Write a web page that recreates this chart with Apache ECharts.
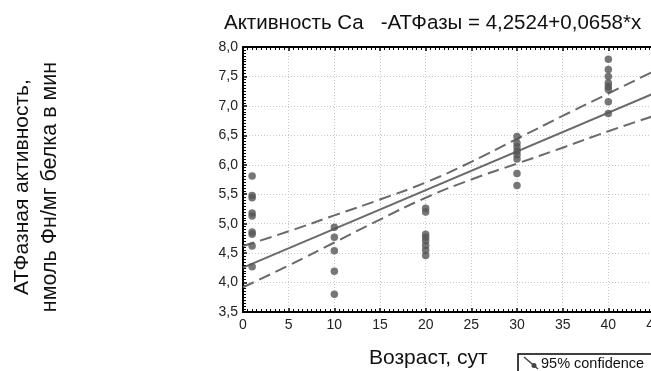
<!DOCTYPE html>
<html>
<head>
<meta charset="utf-8">
<script src="https://cdn.jsdelivr.net/npm/echarts@6/dist/echarts.min.js"></script>
<style>
html,body{margin:0;padding:0;background:#fff;}
#chart{width:651px;height:371px;}
</style>
</head>
<body>
<div id="chart"></div>
<script>
// ---- data ----
var titleText = 'Активность Ca   -АТФазы = 4,2524+0,0658*x';
var xName = 'Возраст, сут';
var yNameLine1 = 'АТФазная активность,';
var yNameLine2 = 'нмоль Фн/мг белка в мин';
var legendText = '95% confidence';

var ages = [1, 10, 20, 30, 40];
var valuesAge1  = [5.81, 5.48, 5.44, 5.18, 5.13, 4.86, 4.82, 4.62, 4.27];
var valuesAge10 = [4.94, 4.77, 4.54, 4.19, 3.80];
var valuesAge20 = [5.26, 5.20, 4.82, 4.77, 4.71, 4.63, 4.55, 4.46];
var valuesAge30 = [6.48, 6.37, 6.30, 6.23, 6.17, 6.10, 5.85, 5.65];
var valuesAge40 = [7.79, 7.62, 7.50, 7.39, 7.33, 7.28, 7.07, 6.87];

var fitX = [0, 45];
var fitY = [4.2524, 7.2134];

var bandX     = [0, 5, 10, 15, 20, 25, 30, 35, 40, 45];
var bandUpper = [4.62, 4.87, 5.14, 5.41, 5.70, 6.05, 6.44, 6.83, 7.21, 7.59];
var bandLower = [3.92, 4.29, 4.68, 5.07, 5.44, 5.75, 6.02, 6.29, 6.57, 6.83];

// ---- build ----
var groups = [valuesAge1, valuesAge10, valuesAge20, valuesAge30, valuesAge40];
var scatterData = [];
groups.forEach(function (g, i) { g.forEach(function (v) { scatterData.push([ages[i], v]); }); });
function zip(a, b) { return a.map(function (x, i) { return [x, b[i]]; }); }

var chart = echarts.init(document.getElementById('chart'), null, {renderer: 'canvas'});
var lineColor = '#6a6a6a';
var FF = '"Liberation Sans", Arial';
var frame = {show: true, lineStyle: {color: '#000', width: 2}};
var gridSplit = {show: true, lineStyle: {color: '#c8c8c8', type: [1, 2], width: 1}};

chart.setOption({
  animation: false,
  backgroundColor: '#fff',
  title: {
    text: titleText, left: 219, top: 8,
    textStyle: {fontFamily: FF, fontSize: 20.5, fontWeight: 'normal', color: '#111'}
  },
  grid: {left: 243, top: 47, height: 265, width: 411, containLabel: false, outerBoundsMode: 'none'},
  xAxis: [{
    type: 'value', min: 0, max: 45, interval: 5, position: 'bottom',
    axisLine: frame,
    axisTick: {show: true, inside: true, length: 4, lineStyle: {color: '#000', width: 1.5}},
    minorTick: {show: true, splitNumber: 10, length: 3, lineStyle: {color: '#000', width: 1}},
    splitLine: gridSplit,
    axisLabel: {color: '#222', fontSize: 14, fontFamily: FF, margin: 6}
  }, {
    type: 'value', min: 0, max: 45, interval: 5, position: 'top',
    axisLine: frame,
    axisTick: {show: true, inside: true, length: 4, lineStyle: {color: '#000', width: 1.5}},
    minorTick: {show: true, splitNumber: 10, length: 3, lineStyle: {color: '#000', width: 1}},
    splitLine: {show: false}, axisLabel: {show: false}
  }],
  yAxis: [{
    type: 'value', min: 3.5, max: 8, interval: 0.5, position: 'left',
    axisLine: frame,
    axisTick: {show: true, inside: true, length: 4, lineStyle: {color: '#000', width: 1.5}},
    minorTick: {show: true, splitNumber: 10, length: 3, lineStyle: {color: '#000', width: 1}},
    splitLine: gridSplit,
    axisLabel: {color: '#222', fontSize: 14, fontFamily: FF, margin: 5,
      formatter: function (v) { return v.toFixed(1).replace('.', ','); }}
  }, {
    type: 'value', min: 3.5, max: 8, interval: 0.5, position: 'right',
    axisLine: frame, axisTick: {show: false}, splitLine: {show: false}, axisLabel: {show: false}
  }],
  graphic: [
    {type: 'text', left: 369, top: 348, style: {text: xName, font: '21px ' + FF, fill: '#111'}},
    {type: 'text', x: 22, y: 187, rotation: Math.PI / 2,
      style: {text: yNameLine1, font: '21px ' + FF, fill: '#111', textAlign: 'center', textVerticalAlign: 'middle'}},
    {type: 'text', x: 50, y: 187, rotation: Math.PI / 2,
      style: {text: yNameLine2, font: '21.5px ' + FF, fill: '#111', textAlign: 'center', textVerticalAlign: 'middle'}},
    {type: 'rect', shape: {x: 518, y: 354, width: 160, height: 30}, style: {fill: '#fff', stroke: '#000', lineWidth: 1.5}},
    {type: 'line', shape: {x1: 524, y1: 357, x2: 538, y2: 369}, style: {stroke: '#444', lineWidth: 1.5}},
    {type: 'circle', shape: {cx: 534, cy: 365.5, r: 2.5}, style: {fill: '#444'}},
    {type: 'text', left: 541, top: 356, style: {text: legendText, font: '14.5px ' + FF, fill: '#111'}}
  ],
  series: [
    {type: 'line', name: 'upper', data: zip(bandX, bandUpper), smooth: true, symbol: 'none',
      lineStyle: {color: lineColor, width: 2, type: [12, 6]}, z: 3},
    {type: 'line', name: 'lower', data: zip(bandX, bandLower), smooth: true, symbol: 'none',
      lineStyle: {color: lineColor, width: 2, type: [12, 6]}, z: 3},
    {type: 'line', name: 'fit', data: zip(fitX, fitY), symbol: 'none',
      lineStyle: {color: lineColor, width: 2}, z: 3},
    {type: 'scatter', name: 'data', data: scatterData, symbol: 'circle', symbolSize: 7.5,
      itemStyle: {color: '#555'}, z: 4}
  ]
});
</script>
</body>
</html>
